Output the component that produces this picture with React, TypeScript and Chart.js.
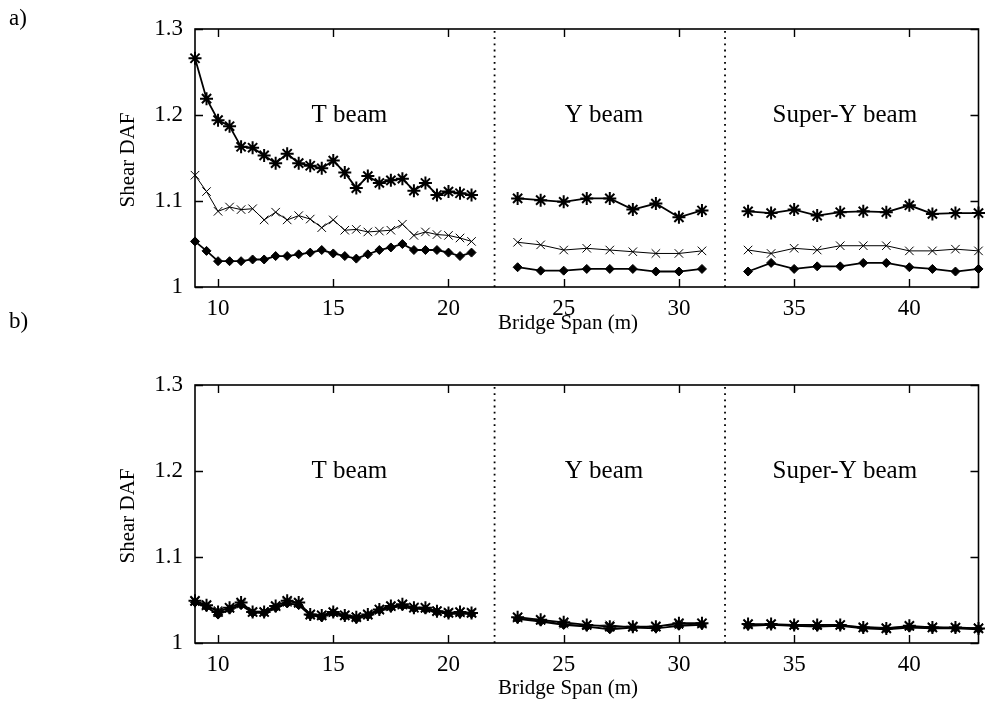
import React, { useEffect, useRef } from "react";
import { Chart, registerables } from "chart.js";

Chart.register(...registerables);

// ---- categories / spans ----
const tSpan = [9, 9.5, 10, 10.5, 11, 11.5, 12, 12.5, 13, 13.5, 14, 14.5, 15, 15.5, 16, 16.5, 17, 17.5, 18, 18.5, 19, 19.5, 20, 20.5, 21];
const ySpan = [23, 24, 25, 26, 27, 28, 29, 30, 31];
const sySpan = [33, 34, 35, 36, 37, 38, 39, 40, 41, 42, 43];

const xTicks = [10, 15, 20, 25, 30, 35, 40];
const yTicks = [1, 1.1, 1.2, 1.3];
const beamNames = ["T beam", "Y beam", "Super-Y beam"];
const beamLabelX = [15.7, 26.75, 37.2];
const beamLabelY = 1.2;
const dividerX = [22, 32];

// ---- panel a) ----
const aStarT = [1.266, 1.219, 1.194, 1.187, 1.163, 1.162, 1.153, 1.144, 1.155, 1.144, 1.141, 1.138, 1.147, 1.133, 1.115, 1.129, 1.121, 1.124, 1.126, 1.112, 1.121, 1.107, 1.111, 1.109, 1.107];
const aCrossT = [1.130, 1.111, 1.088, 1.093, 1.090, 1.091, 1.078, 1.087, 1.078, 1.083, 1.079, 1.069, 1.078, 1.066, 1.067, 1.064, 1.065, 1.066, 1.073, 1.060, 1.064, 1.061, 1.060, 1.057, 1.053];
const aDotT = [1.053, 1.042, 1.030, 1.030, 1.030, 1.032, 1.032, 1.036, 1.036, 1.038, 1.040, 1.043, 1.039, 1.036, 1.033, 1.038, 1.043, 1.046, 1.050, 1.043, 1.043, 1.043, 1.040, 1.036, 1.040];

const aStarY = [1.103, 1.101, 1.099, 1.103, 1.103, 1.090, 1.097, 1.081, 1.089];
const aCrossY = [1.052, 1.049, 1.043, 1.045, 1.043, 1.041, 1.039, 1.039, 1.042];
const aDotY = [1.023, 1.019, 1.019, 1.021, 1.021, 1.021, 1.018, 1.018, 1.021];

const aStarSY = [1.088, 1.086, 1.090, 1.083, 1.087, 1.088, 1.087, 1.095, 1.085, 1.086, 1.086];
const aCrossSY = [1.043, 1.039, 1.045, 1.043, 1.048, 1.048, 1.048, 1.042, 1.042, 1.044, 1.042];
const aDotSY = [1.018, 1.028, 1.021, 1.024, 1.024, 1.028, 1.028, 1.023, 1.021, 1.018, 1.021];

// ---- panel b) ----
const bStarT = [1.049, 1.044, 1.036, 1.041, 1.047, 1.036, 1.036, 1.043, 1.049, 1.047, 1.033, 1.032, 1.036, 1.032, 1.030, 1.033, 1.039, 1.043, 1.045, 1.041, 1.041, 1.037, 1.035, 1.036, 1.035];
const bCrossT = [1.048, 1.043, 1.038, 1.040, 1.045, 1.037, 1.037, 1.042, 1.047, 1.046, 1.034, 1.033, 1.035, 1.033, 1.031, 1.034, 1.038, 1.042, 1.044, 1.042, 1.040, 1.038, 1.036, 1.035, 1.036];
const bDotT = [1.047, 1.042, 1.033, 1.039, 1.044, 1.035, 1.035, 1.041, 1.046, 1.044, 1.032, 1.030, 1.035, 1.031, 1.028, 1.032, 1.038, 1.041, 1.043, 1.040, 1.039, 1.036, 1.034, 1.034, 1.034];

const bStarY = [1.030, 1.027, 1.024, 1.021, 1.019, 1.019, 1.019, 1.023, 1.023];
const bCrossY = [1.029, 1.026, 1.022, 1.020, 1.021, 1.018, 1.020, 1.021, 1.022];
const bDotY = [1.028, 1.025, 1.021, 1.019, 1.016, 1.018, 1.017, 1.020, 1.021];

const bStarSY = [1.022, 1.022, 1.021, 1.021, 1.021, 1.018, 1.017, 1.020, 1.018, 1.018, 1.017];
const bCrossSY = [1.021, 1.021, 1.020, 1.020, 1.020, 1.019, 1.018, 1.019, 1.019, 1.017, 1.018];
const bDotSY = [1.020, 1.021, 1.020, 1.019, 1.020, 1.017, 1.016, 1.018, 1.017, 1.017, 1.016];

const SERIF = "'Liberation Serif', 'Times New Roman', Times, serif";

const spans = [tSpan, ySpan, sySpan];

function pts(xs: number[], ys: number[]) {
  return xs.map((x, i) => ({ x, y: ys[i] }));
}

const starStyle = {
  borderColor: "#000",
  backgroundColor: "#000",
  borderWidth: 1.8,
  pointStyle: "star",
  pointRadius: 6.5,
  pointBorderWidth: 2,
  pointBackgroundColor: "#000",
  pointBorderColor: "#000",
};
const crossStyle = {
  borderColor: "#000",
  backgroundColor: "#000",
  borderWidth: 1,
  pointStyle: "crossRot",
  pointRadius: 6,
  pointBorderWidth: 1,
  pointBorderColor: "#000",
};
const dotStyle = {
  borderColor: "#000",
  backgroundColor: "#000",
  borderWidth: 1.8,
  pointStyle: "rectRot",
  pointRadius: 4.5,
  pointBorderWidth: 1,
  pointBackgroundColor: "#000",
  pointBorderColor: "#000",
};

function buildDatasets(star: number[][], cross: number[][], dot: number[][]) {
  const ds: any[] = [];
  dividerX.forEach((x) => {
    ds.push({
      data: [
        { x, y: 1 },
        { x, y: 1.3 },
      ],
      borderColor: "#000",
      borderWidth: 1.8,
      borderDash: [1.8, 4.4],
      pointRadius: 0,
      clip: false,
    });
  });
  spans.forEach((xs, i) => {
    ds.push({ data: pts(xs, cross[i]), ...crossStyle, clip: false });
    ds.push({ data: pts(xs, dot[i]), ...dotStyle, clip: false });
    ds.push({ data: pts(xs, star[i]), ...starStyle, clip: false });
  });
  return ds;
}

const framePlugin = {
  id: "frame",
  afterDraw(chart: any) {
    const { ctx, chartArea: a, scales } = chart;
    const opts = chart.options.plugins.frame || {};
    ctx.save();
    ctx.strokeStyle = "#000";
    ctx.lineWidth = 1.6;
    ctx.strokeRect(a.left, a.top, a.right - a.left, a.bottom - a.top);
    ctx.lineWidth = 1.4;
    ctx.beginPath();
    xTicks.forEach((v) => {
      const px = Math.round(scales.x.getPixelForValue(v)) + 0.5;
      ctx.moveTo(px, a.bottom);
      ctx.lineTo(px, a.bottom - 8);
      ctx.moveTo(px, a.top);
      ctx.lineTo(px, a.top + 8);
    });
    yTicks.forEach((v) => {
      const py = Math.round(scales.y.getPixelForValue(v)) + 0.5;
      ctx.moveTo(a.left, py);
      ctx.lineTo(a.left + 8, py);
      ctx.moveTo(a.right, py);
      ctx.lineTo(a.right - 8, py);
    });
    ctx.stroke();

    ctx.fillStyle = "#000";
    ctx.textAlign = "center";
    ctx.textBaseline = "middle";
    ctx.font = `25px ${SERIF}`;
    beamNames.forEach((n, i) => {
      ctx.fillText(n, scales.x.getPixelForValue(beamLabelX[i]), scales.y.getPixelForValue(beamLabelY));
    });

    ctx.font = `21px ${SERIF}`;
    ctx.fillText("Bridge Span (m)", 568, a.bottom + opts.xTitleOffset);

    ctx.save();
    ctx.translate(128, (a.top + a.bottom) / 2 + 2);
    ctx.rotate(-Math.PI / 2);
    ctx.fillText("Shear DAF", 0, 0);
    ctx.restore();

    ctx.textAlign = "left";
    ctx.font = `23px ${SERIF}`;
    ctx.fillText(opts.panel, 9, opts.panelY);
    ctx.restore();
  },
};

type PanelProps = {
  top: number;
  height: number;
  padTop: number;
  xAxisH: number;
  panel: string;
  panelY: number;
  xTitleOffset: number;
  star: number[][];
  cross: number[][];
  dot: number[][];
};

function Panel(p: PanelProps) {
  const ref = useRef<HTMLCanvasElement | null>(null);
  useEffect(() => {
    if (!ref.current) return;
    const chart = new Chart(ref.current, {
      type: "line",
      data: { datasets: buildDatasets(p.star, p.cross, p.dot) },
      options: {
        responsive: false,
        animation: false,
        layout: { padding: { top: p.padTop, right: 1, left: 0, bottom: 0 } },
        plugins: {
          legend: { display: false },
          tooltip: { enabled: false },
          frame: { panel: p.panel, panelY: p.panelY, xTitleOffset: p.xTitleOffset },
        } as any,
        scales: {
          x: {
            type: "linear",
            min: 9,
            max: 43,
            grid: { display: false, drawTicks: false },
            border: { display: false },
            ticks: {
              font: { family: SERIF, size: 23 },
              color: "#000",
              padding: 8,
              maxRotation: 0,
              autoSkip: false,
            },
            afterBuildTicks: (s: any) => {
              s.ticks = xTicks.map((v) => ({ value: v }));
            },
            afterFit: (s: any) => {
              s.height = p.xAxisH;
            },
          },
          y: {
            type: "linear",
            min: 1,
            max: 1.3,
            grid: { display: false, drawTicks: false },
            border: { display: false },
            ticks: {
              font: { family: SERIF, size: 23 },
              color: "#000",
              padding: 12,
              callback: (v: any) => String(Number(Number(v).toFixed(1))),
            },
            afterBuildTicks: (s: any) => {
              s.ticks = yTicks.map((v) => ({ value: v }));
            },
            afterFit: (s: any) => {
              s.width = 195;
            },
          },
        } as any,
      },
      plugins: [framePlugin],
    } as any);
    return () => chart.destroy();
  }, []);
  return (
    <canvas
      ref={ref}
      width={987}
      height={p.height}
      style={{ position: "absolute", left: 0, top: p.top, width: 987, height: p.height, display: "block" }}
    />
  );
}

export default function App() {
  return (
    <div style={{ position: "absolute", left: 0, top: 0, width: 987, height: 716, background: "#fff", overflow: "hidden" }}>
      <Panel
        top={0}
        height={345}
        padTop={29}
        xAxisH={58}
        panel="a)"
        panelY={19}
        xTitleOffset={36}
        star={[aStarT, aStarY, aStarSY]}
        cross={[aCrossT, aCrossY, aCrossSY]}
        dot={[aDotT, aDotY, aDotSY]}
      />
      <Panel
        top={300}
        height={416}
        padTop={85}
        xAxisH={73}
        panel="b)"
        panelY={22}
        xTitleOffset={45}
        star={[bStarT, bStarY, bStarSY]}
        cross={[bCrossT, bCrossY, bCrossSY]}
        dot={[bDotT, bDotY, bDotSY]}
      />
    </div>
  );
}
